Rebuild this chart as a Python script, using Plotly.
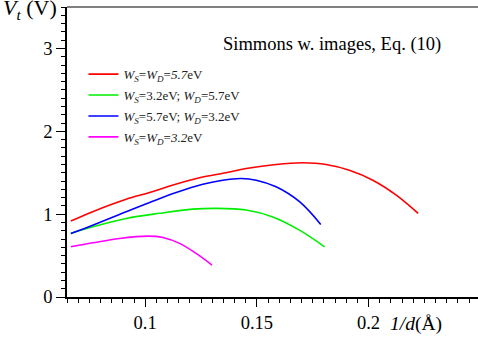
import plotly.graph_objects as go

# data
red_x = [0.0667, 0.0765, 0.0915, 0.102, 0.111, 0.1243, 0.1362, 0.1452, 0.1586, 0.1705, 0.181, 0.1914, 0.2019, 0.2124, 0.2222]
red_y = [0.916, 1.03, 1.18, 1.26, 1.34, 1.44, 1.50, 1.55, 1.60, 1.62, 1.60, 1.53, 1.41, 1.23, 1.01]
green_x = [0.0667, 0.0765, 0.0915, 0.1064, 0.1213, 0.1318, 0.1452, 0.1571, 0.1691, 0.1803]
green_y = [0.767, 0.847, 0.948, 1.01, 1.06, 1.07, 1.05, 0.967, 0.807, 0.606]
blue_x = [0.0667, 0.0765, 0.0915, 0.102, 0.1139, 0.1258, 0.1347, 0.143, 0.1497, 0.1586, 0.1691, 0.1786]
blue_y = [0.767, 0.867, 1.03, 1.14, 1.26, 1.36, 1.41, 1.43, 1.41, 1.33, 1.15, 0.876]
mag_x = [0.0667, 0.0765, 0.0885, 0.1012, 0.1079, 0.1154, 0.1228, 0.1299]
mag_y = [0.606, 0.654, 0.707, 0.735, 0.719, 0.647, 0.526, 0.386]

names = [
    "<i>W<sub>S</sub></i>=<i>W<sub>D</sub></i>=<i>5.7</i>eV",
    "<i>W<sub>S</sub></i>=3.2eV; <i>W<sub>D</sub></i>=5.7eV",
    "<i>W<sub>S</sub></i>=5.7eV; <i>W<sub>D</sub></i>=3.2eV",
    "<i>W<sub>S</sub></i>=<i>W<sub>D</sub></i>=<i>3.2</i>eV",
]
colors = ["#ff0000", "#00ee00", "#0000ff", "#ff00ff"]
xs = [red_x, green_x, blue_x, mag_x]
ys = [red_y, green_y, blue_y, mag_y]

FONT = "Liberation Serif"

fig = go.Figure()
for i, (x, y, n, c) in enumerate(zip(xs, ys, names, colors)):
    fig.add_trace(go.Scatter(x=x, y=y, mode="lines", name=n, legendgroup=f"g{i}",
                             line=dict(color=c, width=1.6, shape="spline")))

fig.update_layout(
    width=478, height=341,
    margin=dict(l=67, r=0, t=7, b=44),
    plot_bgcolor="white", paper_bgcolor="white",
    font=dict(family=FONT, color="black"),
    showlegend=True,
    legend=dict(x=0.04, y=0.82, xanchor="left", yanchor="top",
                font=dict(family=FONT, size=13, color="#222"),
                bgcolor="rgba(0,0,0,0)", tracegroupgap=1, itemwidth=30),
    xaxis=dict(range=[0.065, 0.249], showgrid=False, zeroline=False,
               showline=True, linecolor="black", linewidth=1.5,
               ticks="outside", ticklen=8, tickwidth=1, tickcolor="black",
               dtick=0.05, tick0=0,
               tickfont=dict(family=FONT, size=18.5),
               minor=dict(dtick=0.005, tick0=0, ticks="outside", ticklen=4, tickcolor="black")),
    yaxis=dict(range=[0, 3.5], showgrid=False, zeroline=False,
               showline=True, linecolor="black", linewidth=1.5,
               ticks="outside", ticklen=9, tickwidth=1, tickcolor="black",
               dtick=1, tick0=0, tickfont=dict(family=FONT, size=18.5),
               minor=dict(dtick=0.1, tick0=0, ticks="outside", ticklen=4, tickcolor="black")),
    shapes=[dict(type="line", xref="paper", yref="paper", x0=0, x1=1, y0=1, y1=1,
                 line=dict(color="#808080", width=2))],
    annotations=[
        dict(text="<i>V<sub>t</sub></i> (V)", xref="paper", yref="paper",
             x=-0.091, y=0.994, xanchor="center", yanchor="middle", showarrow=False,
             font=dict(family=FONT, size=22)),
        dict(text="<i>1/d</i>(Å)", xref="paper", yref="paper",
             x=0.849, y=-0.093, xanchor="center", yanchor="middle", showarrow=False,
             font=dict(family=FONT, size=19.5)),
        dict(text="Simmons w. images, Eq. (10)", xref="paper", yref="paper",
             x=0.645, y=0.869, xanchor="center", yanchor="middle", showarrow=False,
             font=dict(family=FONT, size=18.5)),
    ],
)

fig.write_html("out.html", config={"displayModeBar": False},
               post_script="document.body.style.margin='0';")
